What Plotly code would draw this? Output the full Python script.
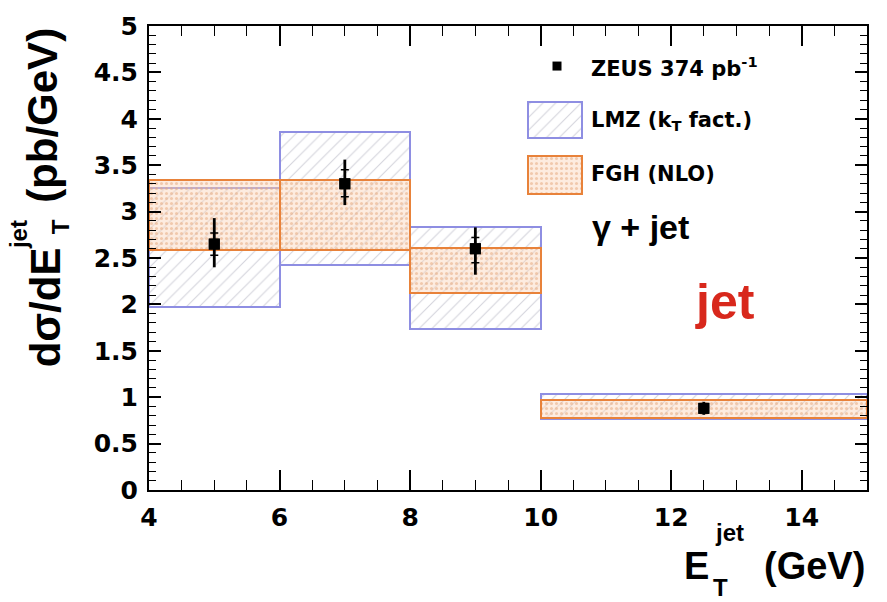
import plotly.graph_objects as go

# Bin edges in E_T^jet (GeV)
bin_edges = [4, 6, 8, 10, 15]

# ZEUS measurement: dsigma/dE_T (pb/GeV)
zeus_x = [5.0, 7.0, 9.0, 12.5]
zeus_y = [2.65, 3.30, 2.60, 0.88]
zeus_tot_up = [0.28, 0.26, 0.23, 0.07]
zeus_tot_dn = [0.25, 0.23, 0.28, 0.07]
zeus_stat_up = [0.12, 0.15, 0.12, 0.03]
zeus_stat_dn = [0.12, 0.14, 0.15, 0.03]

# LMZ (kT factorisation) band
lmz_low = [1.97, 2.43, 1.73, 0.77]
lmz_high = [3.25, 3.86, 2.83, 1.03]

# FGH (NLO) band
fgh_low = [2.59, 2.59, 2.12, 0.78]
fgh_high = [3.34, 3.34, 2.61, 0.97]

centers = [(a + b) / 2 for a, b in zip(bin_edges[:-1], bin_edges[1:])]
widths = [b - a for a, b in zip(bin_edges[:-1], bin_edges[1:])]

LMZ_LINE = "#8e8ee2"
LMZ_HATCH = "#a8a8b8"
FGH_LINE = "#e8823a"
FGH_HATCH = "#e4a67a"
FGH_BG = "rgba(250,214,186,0.45)"

# plot-area pixel frame used for placing text outside the axes
PX_L, PX_R, PX_T, PX_B = 149, 867, 15, 490


def px(xp):
    return (xp - PX_L) / (PX_R - PX_L)


def py(yp):
    return (PX_B - yp) / (PX_B - PX_T)


def lmz_marker():
    return dict(color="rgba(0,0,0,0)",
                line=dict(color=LMZ_LINE, width=2),
                pattern=dict(shape="/", fgcolor=LMZ_HATCH, bgcolor="rgba(0,0,0,0)",
                             size=9, solidity=0.12))


def fgh_marker():
    return dict(color="rgba(0,0,0,0)",
                line=dict(color=FGH_LINE, width=2),
                pattern=dict(shape=".", fgcolor=FGH_HATCH, bgcolor=FGH_BG,
                             size=5, solidity=0.3))


fig = go.Figure()

fig.add_trace(go.Bar(
    x=centers, y=[h - l for h, l in zip(lmz_high, lmz_low)], base=lmz_low,
    width=widths, name="LMZ", marker=lmz_marker(),
    hoverinfo="skip", showlegend=False,
))

fig.add_trace(go.Bar(
    x=centers, y=[h - l for h, l in zip(fgh_high, fgh_low)], base=fgh_low,
    width=widths, name="FGH", marker=fgh_marker(),
    hoverinfo="skip", showlegend=False,
))

# total uncertainty
fig.add_trace(go.Scatter(
    x=zeus_x, y=zeus_y, mode="markers",
    marker=dict(symbol="square", size=11, color="black"),
    error_y=dict(type="data", symmetric=False, array=zeus_tot_up,
                 arrayminus=zeus_tot_dn, color="black", thickness=2.8, width=0),
    showlegend=False, hoverinfo="skip",
))
# statistical uncertainty (inner ticks)
fig.add_trace(go.Scatter(
    x=zeus_x, y=zeus_y, mode="markers",
    marker=dict(symbol="square", size=11, color="black"),
    error_y=dict(type="data", symmetric=False, array=zeus_stat_up,
                 arrayminus=zeus_stat_dn, color="black", thickness=1.5, width=4),
    showlegend=False, hoverinfo="skip",
))

# legend swatches drawn on an overlay axis in pixel units
fig.add_trace(go.Bar(
    x=[555], y=[37], base=[93], width=[54], xaxis="x2", yaxis="y2",
    marker=lmz_marker(), hoverinfo="skip", showlegend=False,
))
fig.add_trace(go.Bar(
    x=[555], y=[39], base=[148], width=[54], xaxis="x2", yaxis="y2",
    marker=fgh_marker(), hoverinfo="skip", showlegend=False,
))
fig.add_trace(go.Scatter(
    x=[557], y=[56], xaxis="x2", yaxis="y2", mode="markers",
    marker=dict(symbol="square", size=9, color="black"),
    hoverinfo="skip", showlegend=False,
))

TICKFONT = dict(family="DejaVu Sans", size=25, color="black", weight="bold")

fig.update_layout(
    width=887, height=602,
    margin=dict(l=PX_L, r=887 - PX_R, t=PX_T, b=602 - PX_B),
    paper_bgcolor="white", plot_bgcolor="white",
    barmode="overlay", bargap=0,
    xaxis=dict(range=[4, 15], dtick=2, tick0=4, ticks="inside", ticklen=20,
               tickwidth=1.5, tickcolor="black", showline=True, linecolor="black",
               linewidth=2, mirror="ticks", showgrid=False, zeroline=False,
               tickfont=TICKFONT, ticklabelstandoff=4,
               minor=dict(dtick=0.5, ticks="inside", ticklen=10, tickwidth=1.2,
                          tickcolor="black", showgrid=False)),
    yaxis=dict(range=[0, 5], dtick=0.5, tick0=0, ticks="inside", ticklen=12,
               tickwidth=1.5, tickcolor="black", showline=True, linecolor="black",
               linewidth=2, mirror="ticks", showgrid=False, zeroline=False,
               tickfont=TICKFONT, ticklabelstandoff=4,
               minor=dict(dtick=0.1, ticks="inside", ticklen=7, tickwidth=1.2,
                          tickcolor="black", showgrid=False)),
    xaxis2=dict(range=[PX_L, PX_R], overlaying="x", visible=False),
    yaxis2=dict(range=[PX_B, PX_T], overlaying="y", visible=False),
)

BOLD = "Liberation Sans"
ann = []


def text(s, xp, yp, size, family=BOLD, angle=0, xanchor="center", color="black"):
    ann.append(dict(text=s, x=px(xp), y=py(yp), xref="paper", yref="paper",
                    showarrow=False, textangle=angle, xanchor=xanchor,
                    yanchor="middle",
                    font=dict(family=family, size=size, color=color, weight="bold")))


# y-axis title: dσ/dE_T^jet (pb/GeV)
text("dσ/dE", 45, 303, 42, angle=-90)
text("jet", 18, 229, 24, angle=-90)
text("T", 60, 221, 24, angle=-90)
text("(pb/GeV)", 43, 107, 42, angle=-90)

# x-axis title: E_T^jet (GeV)
text("E", 696, 568, 38)
text("jet", 729, 533, 24)
text("T", 720, 590, 24)
text("(GeV)", 814, 568, 38)

# legend labels
text("ZEUS 374 pb<sup>-1</sup>", 589, 57, 21, family="DejaVu Sans", xanchor="left")
text("LMZ (k<sub>T</sub> fact.)", 589, 112, 21, family="DejaVu Sans", xanchor="left")
text("FGH (NLO)", 589, 167, 21, family="DejaVu Sans", xanchor="left")
text("γ + jet", 590, 221, 34, xanchor="left")
text("jet", 725, 298, 50, color="#d8281c")

fig.update_layout(annotations=ann)

fig.write_html("out.html")
